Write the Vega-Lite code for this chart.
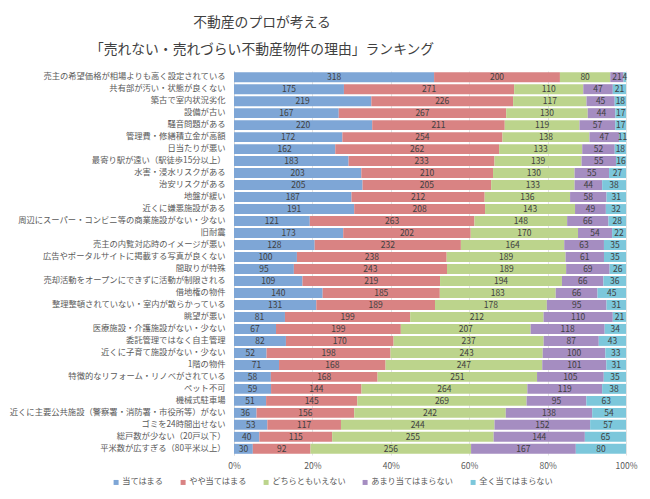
{
  "$schema": "https://vega.github.io/schema/vega-lite/v6.json",
  "width": 392,
  "height": 384,
  "autosize": "none",
  "padding": {"left": 234, "top": 71, "right": 24, "bottom": 44},
  "background": "white",
  "config": {
    "font": "Noto Sans CJK JP",
    "view": {"stroke": null},
    "axisX": {"labelOverlap": false, "labelFlush": false}
  },
  "title": {
    "text": ["不動産のプロが考える", "「売れない・売れづらい不動産物件の理由」ランキング"],
    "fontSize": 13.8,
    "fontWeight": "normal",
    "color": "#404040",
    "anchor": "middle",
    "dx": -168,
    "offset": 14,
    "lineHeight": 27
  },
  "data": {"values": [
    {"r":1,"item":"売主の希望価格が相場よりも高く設定されている","o":1,"cat":"当てはまる","n":318},
    {"r":1,"item":"売主の希望価格が相場よりも高く設定されている","o":2,"cat":"やや当てはまる","n":200},
    {"r":1,"item":"売主の希望価格が相場よりも高く設定されている","o":3,"cat":"どちらともいえない","n":80},
    {"r":1,"item":"売主の希望価格が相場よりも高く設定されている","o":4,"cat":"あまり当てはまらない","n":21},
    {"r":1,"item":"売主の希望価格が相場よりも高く設定されている","o":5,"cat":"全く当てはまらない","n":4},
    {"r":2,"item":"共有部が汚い・状態が良くない","o":1,"cat":"当てはまる","n":175},
    {"r":2,"item":"共有部が汚い・状態が良くない","o":2,"cat":"やや当てはまる","n":271},
    {"r":2,"item":"共有部が汚い・状態が良くない","o":3,"cat":"どちらともいえない","n":110},
    {"r":2,"item":"共有部が汚い・状態が良くない","o":4,"cat":"あまり当てはまらない","n":47},
    {"r":2,"item":"共有部が汚い・状態が良くない","o":5,"cat":"全く当てはまらない","n":21},
    {"r":3,"item":"築古で室内状況劣化","o":1,"cat":"当てはまる","n":219},
    {"r":3,"item":"築古で室内状況劣化","o":2,"cat":"やや当てはまる","n":226},
    {"r":3,"item":"築古で室内状況劣化","o":3,"cat":"どちらともいえない","n":117},
    {"r":3,"item":"築古で室内状況劣化","o":4,"cat":"あまり当てはまらない","n":45},
    {"r":3,"item":"築古で室内状況劣化","o":5,"cat":"全く当てはまらない","n":18},
    {"r":4,"item":"設備が古い","o":1,"cat":"当てはまる","n":167},
    {"r":4,"item":"設備が古い","o":2,"cat":"やや当てはまる","n":267},
    {"r":4,"item":"設備が古い","o":3,"cat":"どちらともいえない","n":130},
    {"r":4,"item":"設備が古い","o":4,"cat":"あまり当てはまらない","n":44},
    {"r":4,"item":"設備が古い","o":5,"cat":"全く当てはまらない","n":17},
    {"r":5,"item":"騒音問題がある","o":1,"cat":"当てはまる","n":220},
    {"r":5,"item":"騒音問題がある","o":2,"cat":"やや当てはまる","n":211},
    {"r":5,"item":"騒音問題がある","o":3,"cat":"どちらともいえない","n":119},
    {"r":5,"item":"騒音問題がある","o":4,"cat":"あまり当てはまらない","n":57},
    {"r":5,"item":"騒音問題がある","o":5,"cat":"全く当てはまらない","n":17},
    {"r":6,"item":"管理費・修繕積立金が高額","o":1,"cat":"当てはまる","n":172},
    {"r":6,"item":"管理費・修繕積立金が高額","o":2,"cat":"やや当てはまる","n":254},
    {"r":6,"item":"管理費・修繕積立金が高額","o":3,"cat":"どちらともいえない","n":138},
    {"r":6,"item":"管理費・修繕積立金が高額","o":4,"cat":"あまり当てはまらない","n":47},
    {"r":6,"item":"管理費・修繕積立金が高額","o":5,"cat":"全く当てはまらない","n":11},
    {"r":7,"item":"日当たりが悪い","o":1,"cat":"当てはまる","n":162},
    {"r":7,"item":"日当たりが悪い","o":2,"cat":"やや当てはまる","n":262},
    {"r":7,"item":"日当たりが悪い","o":3,"cat":"どちらともいえない","n":133},
    {"r":7,"item":"日当たりが悪い","o":4,"cat":"あまり当てはまらない","n":52},
    {"r":7,"item":"日当たりが悪い","o":5,"cat":"全く当てはまらない","n":18},
    {"r":8,"item":"最寄り駅が遠い（駅徒歩15分以上）","o":1,"cat":"当てはまる","n":183},
    {"r":8,"item":"最寄り駅が遠い（駅徒歩15分以上）","o":2,"cat":"やや当てはまる","n":233},
    {"r":8,"item":"最寄り駅が遠い（駅徒歩15分以上）","o":3,"cat":"どちらともいえない","n":139},
    {"r":8,"item":"最寄り駅が遠い（駅徒歩15分以上）","o":4,"cat":"あまり当てはまらない","n":55},
    {"r":8,"item":"最寄り駅が遠い（駅徒歩15分以上）","o":5,"cat":"全く当てはまらない","n":16},
    {"r":9,"item":"水害・浸水リスクがある","o":1,"cat":"当てはまる","n":203},
    {"r":9,"item":"水害・浸水リスクがある","o":2,"cat":"やや当てはまる","n":210},
    {"r":9,"item":"水害・浸水リスクがある","o":3,"cat":"どちらともいえない","n":130},
    {"r":9,"item":"水害・浸水リスクがある","o":4,"cat":"あまり当てはまらない","n":55},
    {"r":9,"item":"水害・浸水リスクがある","o":5,"cat":"全く当てはまらない","n":27},
    {"r":10,"item":"治安リスクがある","o":1,"cat":"当てはまる","n":205},
    {"r":10,"item":"治安リスクがある","o":2,"cat":"やや当てはまる","n":205},
    {"r":10,"item":"治安リスクがある","o":3,"cat":"どちらともいえない","n":133},
    {"r":10,"item":"治安リスクがある","o":4,"cat":"あまり当てはまらない","n":44},
    {"r":10,"item":"治安リスクがある","o":5,"cat":"全く当てはまらない","n":38},
    {"r":11,"item":"地盤が緩い","o":1,"cat":"当てはまる","n":187},
    {"r":11,"item":"地盤が緩い","o":2,"cat":"やや当てはまる","n":212},
    {"r":11,"item":"地盤が緩い","o":3,"cat":"どちらともいえない","n":136},
    {"r":11,"item":"地盤が緩い","o":4,"cat":"あまり当てはまらない","n":58},
    {"r":11,"item":"地盤が緩い","o":5,"cat":"全く当てはまらない","n":31},
    {"r":12,"item":"近くに嫌悪施設がある","o":1,"cat":"当てはまる","n":191},
    {"r":12,"item":"近くに嫌悪施設がある","o":2,"cat":"やや当てはまる","n":208},
    {"r":12,"item":"近くに嫌悪施設がある","o":3,"cat":"どちらともいえない","n":143},
    {"r":12,"item":"近くに嫌悪施設がある","o":4,"cat":"あまり当てはまらない","n":49},
    {"r":12,"item":"近くに嫌悪施設がある","o":5,"cat":"全く当てはまらない","n":32},
    {"r":13,"item":"周辺にスーパー・コンビニ等の商業施設がない・少ない","o":1,"cat":"当てはまる","n":121},
    {"r":13,"item":"周辺にスーパー・コンビニ等の商業施設がない・少ない","o":2,"cat":"やや当てはまる","n":263},
    {"r":13,"item":"周辺にスーパー・コンビニ等の商業施設がない・少ない","o":3,"cat":"どちらともいえない","n":148},
    {"r":13,"item":"周辺にスーパー・コンビニ等の商業施設がない・少ない","o":4,"cat":"あまり当てはまらない","n":66},
    {"r":13,"item":"周辺にスーパー・コンビニ等の商業施設がない・少ない","o":5,"cat":"全く当てはまらない","n":28},
    {"r":14,"item":"旧耐震","o":1,"cat":"当てはまる","n":173},
    {"r":14,"item":"旧耐震","o":2,"cat":"やや当てはまる","n":202},
    {"r":14,"item":"旧耐震","o":3,"cat":"どちらともいえない","n":170},
    {"r":14,"item":"旧耐震","o":4,"cat":"あまり当てはまらない","n":54},
    {"r":14,"item":"旧耐震","o":5,"cat":"全く当てはまらない","n":22},
    {"r":15,"item":"売主の内覧対応時のイメージが悪い","o":1,"cat":"当てはまる","n":128},
    {"r":15,"item":"売主の内覧対応時のイメージが悪い","o":2,"cat":"やや当てはまる","n":232},
    {"r":15,"item":"売主の内覧対応時のイメージが悪い","o":3,"cat":"どちらともいえない","n":164},
    {"r":15,"item":"売主の内覧対応時のイメージが悪い","o":4,"cat":"あまり当てはまらない","n":63},
    {"r":15,"item":"売主の内覧対応時のイメージが悪い","o":5,"cat":"全く当てはまらない","n":35},
    {"r":16,"item":"広告やポータルサイトに掲載する写真が良くない","o":1,"cat":"当てはまる","n":100},
    {"r":16,"item":"広告やポータルサイトに掲載する写真が良くない","o":2,"cat":"やや当てはまる","n":238},
    {"r":16,"item":"広告やポータルサイトに掲載する写真が良くない","o":3,"cat":"どちらともいえない","n":189},
    {"r":16,"item":"広告やポータルサイトに掲載する写真が良くない","o":4,"cat":"あまり当てはまらない","n":61},
    {"r":16,"item":"広告やポータルサイトに掲載する写真が良くない","o":5,"cat":"全く当てはまらない","n":35},
    {"r":17,"item":"間取りが特殊","o":1,"cat":"当てはまる","n":95},
    {"r":17,"item":"間取りが特殊","o":2,"cat":"やや当てはまる","n":243},
    {"r":17,"item":"間取りが特殊","o":3,"cat":"どちらともいえない","n":189},
    {"r":17,"item":"間取りが特殊","o":4,"cat":"あまり当てはまらない","n":69},
    {"r":17,"item":"間取りが特殊","o":5,"cat":"全く当てはまらない","n":26},
    {"r":18,"item":"売却活動をオープンにできずに活動が制限される","o":1,"cat":"当てはまる","n":109},
    {"r":18,"item":"売却活動をオープンにできずに活動が制限される","o":2,"cat":"やや当てはまる","n":219},
    {"r":18,"item":"売却活動をオープンにできずに活動が制限される","o":3,"cat":"どちらともいえない","n":194},
    {"r":18,"item":"売却活動をオープンにできずに活動が制限される","o":4,"cat":"あまり当てはまらない","n":66},
    {"r":18,"item":"売却活動をオープンにできずに活動が制限される","o":5,"cat":"全く当てはまらない","n":36},
    {"r":19,"item":"借地権の物件","o":1,"cat":"当てはまる","n":140},
    {"r":19,"item":"借地権の物件","o":2,"cat":"やや当てはまる","n":185},
    {"r":19,"item":"借地権の物件","o":3,"cat":"どちらともいえない","n":183},
    {"r":19,"item":"借地権の物件","o":4,"cat":"あまり当てはまらない","n":66},
    {"r":19,"item":"借地権の物件","o":5,"cat":"全く当てはまらない","n":45},
    {"r":20,"item":"整理整頓されていない・室内が散らかっている","o":1,"cat":"当てはまる","n":131},
    {"r":20,"item":"整理整頓されていない・室内が散らかっている","o":2,"cat":"やや当てはまる","n":189},
    {"r":20,"item":"整理整頓されていない・室内が散らかっている","o":3,"cat":"どちらともいえない","n":178},
    {"r":20,"item":"整理整頓されていない・室内が散らかっている","o":4,"cat":"あまり当てはまらない","n":95},
    {"r":20,"item":"整理整頓されていない・室内が散らかっている","o":5,"cat":"全く当てはまらない","n":31},
    {"r":21,"item":"眺望が悪い","o":1,"cat":"当てはまる","n":81},
    {"r":21,"item":"眺望が悪い","o":2,"cat":"やや当てはまる","n":199},
    {"r":21,"item":"眺望が悪い","o":3,"cat":"どちらともいえない","n":212},
    {"r":21,"item":"眺望が悪い","o":4,"cat":"あまり当てはまらない","n":110},
    {"r":21,"item":"眺望が悪い","o":5,"cat":"全く当てはまらない","n":21},
    {"r":22,"item":"医療施設・介護施設がない・少ない","o":1,"cat":"当てはまる","n":67},
    {"r":22,"item":"医療施設・介護施設がない・少ない","o":2,"cat":"やや当てはまる","n":199},
    {"r":22,"item":"医療施設・介護施設がない・少ない","o":3,"cat":"どちらともいえない","n":207},
    {"r":22,"item":"医療施設・介護施設がない・少ない","o":4,"cat":"あまり当てはまらない","n":118},
    {"r":22,"item":"医療施設・介護施設がない・少ない","o":5,"cat":"全く当てはまらない","n":34},
    {"r":23,"item":"委託管理ではなく自主管理","o":1,"cat":"当てはまる","n":82},
    {"r":23,"item":"委託管理ではなく自主管理","o":2,"cat":"やや当てはまる","n":170},
    {"r":23,"item":"委託管理ではなく自主管理","o":3,"cat":"どちらともいえない","n":237},
    {"r":23,"item":"委託管理ではなく自主管理","o":4,"cat":"あまり当てはまらない","n":87},
    {"r":23,"item":"委託管理ではなく自主管理","o":5,"cat":"全く当てはまらない","n":43},
    {"r":24,"item":"近くに子育て施設がない・少ない","o":1,"cat":"当てはまる","n":52},
    {"r":24,"item":"近くに子育て施設がない・少ない","o":2,"cat":"やや当てはまる","n":198},
    {"r":24,"item":"近くに子育て施設がない・少ない","o":3,"cat":"どちらともいえない","n":243},
    {"r":24,"item":"近くに子育て施設がない・少ない","o":4,"cat":"あまり当てはまらない","n":100},
    {"r":24,"item":"近くに子育て施設がない・少ない","o":5,"cat":"全く当てはまらない","n":33},
    {"r":25,"item":"1階の物件","o":1,"cat":"当てはまる","n":71},
    {"r":25,"item":"1階の物件","o":2,"cat":"やや当てはまる","n":168},
    {"r":25,"item":"1階の物件","o":3,"cat":"どちらともいえない","n":247},
    {"r":25,"item":"1階の物件","o":4,"cat":"あまり当てはまらない","n":101},
    {"r":25,"item":"1階の物件","o":5,"cat":"全く当てはまらない","n":31},
    {"r":26,"item":"特徴的なリフォーム・リノベがされている","o":1,"cat":"当てはまる","n":58},
    {"r":26,"item":"特徴的なリフォーム・リノベがされている","o":2,"cat":"やや当てはまる","n":168},
    {"r":26,"item":"特徴的なリフォーム・リノベがされている","o":3,"cat":"どちらともいえない","n":251},
    {"r":26,"item":"特徴的なリフォーム・リノベがされている","o":4,"cat":"あまり当てはまらない","n":105},
    {"r":26,"item":"特徴的なリフォーム・リノベがされている","o":5,"cat":"全く当てはまらない","n":35},
    {"r":27,"item":"ペット不可","o":1,"cat":"当てはまる","n":59},
    {"r":27,"item":"ペット不可","o":2,"cat":"やや当てはまる","n":144},
    {"r":27,"item":"ペット不可","o":3,"cat":"どちらともいえない","n":264},
    {"r":27,"item":"ペット不可","o":4,"cat":"あまり当てはまらない","n":119},
    {"r":27,"item":"ペット不可","o":5,"cat":"全く当てはまらない","n":38},
    {"r":28,"item":"機械式駐車場","o":1,"cat":"当てはまる","n":51},
    {"r":28,"item":"機械式駐車場","o":2,"cat":"やや当てはまる","n":145},
    {"r":28,"item":"機械式駐車場","o":3,"cat":"どちらともいえない","n":269},
    {"r":28,"item":"機械式駐車場","o":4,"cat":"あまり当てはまらない","n":95},
    {"r":28,"item":"機械式駐車場","o":5,"cat":"全く当てはまらない","n":63},
    {"r":29,"item":"近くに主要公共施設（警察署・消防署・市役所等）がない","o":1,"cat":"当てはまる","n":36},
    {"r":29,"item":"近くに主要公共施設（警察署・消防署・市役所等）がない","o":2,"cat":"やや当てはまる","n":156},
    {"r":29,"item":"近くに主要公共施設（警察署・消防署・市役所等）がない","o":3,"cat":"どちらともいえない","n":242},
    {"r":29,"item":"近くに主要公共施設（警察署・消防署・市役所等）がない","o":4,"cat":"あまり当てはまらない","n":138},
    {"r":29,"item":"近くに主要公共施設（警察署・消防署・市役所等）がない","o":5,"cat":"全く当てはまらない","n":54},
    {"r":30,"item":"ゴミを24時間出せない","o":1,"cat":"当てはまる","n":53},
    {"r":30,"item":"ゴミを24時間出せない","o":2,"cat":"やや当てはまる","n":117},
    {"r":30,"item":"ゴミを24時間出せない","o":3,"cat":"どちらともいえない","n":244},
    {"r":30,"item":"ゴミを24時間出せない","o":4,"cat":"あまり当てはまらない","n":152},
    {"r":30,"item":"ゴミを24時間出せない","o":5,"cat":"全く当てはまらない","n":57},
    {"r":31,"item":"総戸数が少ない（20戸以下）","o":1,"cat":"当てはまる","n":40},
    {"r":31,"item":"総戸数が少ない（20戸以下）","o":2,"cat":"やや当てはまる","n":115},
    {"r":31,"item":"総戸数が少ない（20戸以下）","o":3,"cat":"どちらともいえない","n":255},
    {"r":31,"item":"総戸数が少ない（20戸以下）","o":4,"cat":"あまり当てはまらない","n":144},
    {"r":31,"item":"総戸数が少ない（20戸以下）","o":5,"cat":"全く当てはまらない","n":65},
    {"r":32,"item":"平米数が広すぎる（80平米以上）","o":1,"cat":"当てはまる","n":30},
    {"r":32,"item":"平米数が広すぎる（80平米以上）","o":2,"cat":"やや当てはまる","n":92},
    {"r":32,"item":"平米数が広すぎる（80平米以上）","o":3,"cat":"どちらともいえない","n":256},
    {"r":32,"item":"平米数が広すぎる（80平米以上）","o":4,"cat":"あまり当てはまらない","n":167},
    {"r":32,"item":"平米数が広すぎる（80平米以上）","o":5,"cat":"全く当てはまらない","n":80}
  ]},
  "transform": [
    {"stack": "n", "groupby": ["item"], "sort": [{"field": "o", "order": "ascending"}], "offset": "normalize", "as": ["v0", "v1"]},
    {"calculate": "(datum.v0 + datum.v1) / 2", "as": "mid"}
  ],
  "encoding": {
    "y": {
      "field": "item", "type": "nominal",
      "sort": {"field": "r", "op": "min", "order": "ascending"},
      "scale": {"paddingInner": 0.17, "paddingOuter": 0.1},
      "axis": {
        "title": null, "ticks": false, "domain": true, "domainColor": "#d9d9d9",
        "labelFontSize": 8.3, "labelColor": "#595959", "labelPadding": 9, "labelLimit": 300
      }
    }
  },
  "layer": [
    {
      "mark": {"type": "bar"},
      "encoding": {
        "x": {
          "field": "v0", "type": "quantitative",
          "scale": {"domain": [0, 1]},
          "axis": {
            "title": null, "format": "%", "values": [0,0.1,0.2,0.3,0.4,0.5,0.6,0.7,0.8,0.9,1],
            "grid": true, "gridColor": "#e3e3e3", "domain": false, "ticks": false,
            "labelOverlap": false, "labelFlush": false,
            "labelFontSize": 8.5, "labelColor": "#595959", "labelPadding": 6
          }
        },
        "x2": {"field": "v1"},
        "color": {
          "field": "cat", "type": "nominal",
          "scale": {
            "domain": ["当てはまる", "やや当てはまる", "どちらともいえない", "あまり当てはまらない", "全く当てはまらない"],
            "range": ["#7ea6d6", "#d98383", "#bcd48c", "#a58dc1", "#7cc7db"]
          },
          "legend": {
            "title": null, "orient": "none", "direction": "horizontal",
            "legendX": -122, "legendY": 407, "columns": 5,
            "symbolType": "square", "symbolSize": 25, "symbolStrokeWidth": 0,
            "labelFontSize": 8.2, "labelColor": "#595959", "columnPadding": 15, "labelOffset": 2
          }
        }
      }
    },
    {
      "mark": {"type": "text", "fontSize": 8.5, "color": "#404040"},
      "encoding": {
        "x": {"field": "mid", "type": "quantitative"},
        "text": {"field": "n", "type": "quantitative"}
      }
    }
  ]
}
